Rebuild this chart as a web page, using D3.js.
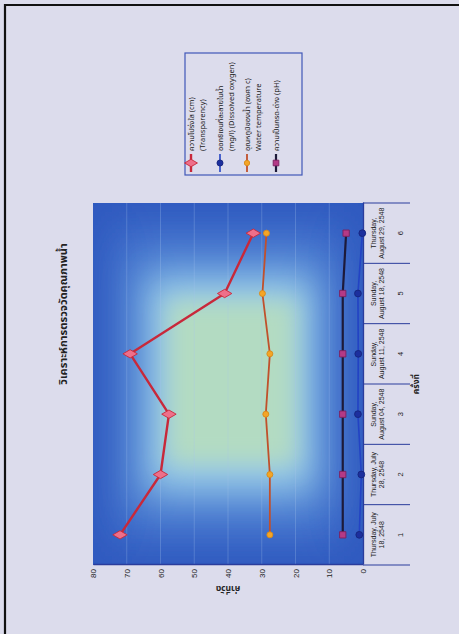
<!DOCTYPE html>
<html>
<head>
<meta charset="utf-8">
<script src="https://cdn.jsdelivr.net/npm/d3@7"></script>
<style>
  html, body { margin: 0; padding: 0; background: #dcdcec; }
  svg { display: block; }
  text { font-family: "Liberation Sans", Arial, sans-serif; }
  .th { font-family: "Noto Sans Thai", "Noto Sans Thai UI", "Loma", "Garuda", "Tlwg Typo", "Noto Sans", sans-serif; }
</style>
</head>
<body>
<svg id="chart" width="459" height="634"></svg>
<script>
// Sampling sessions (category axis)
const sessions = ["1", "2", "3", "4", "5", "6"];
const sessionDates = [
  ["Thursday, July", "18, 2548"],
  ["Thursday, July", "28, 2548"],
  ["Sunday,", "August 04, 2548"],
  ["Sunday,", "August 11, 2548"],
  ["Sunday,", "August 18, 2548"],
  ["Thursday,", "August 29, 2548"]
];

// Measured values per session
const transparency    = [72, 60, 57.5, 69, 41, 32.5];
const dissolvedOxygen = [1.1, 0.5, 1.5, 1.4, 1.5, 0.2];
const waterTemp       = [27.6, 27.6, 28.8, 27.6, 29.8, 28.6];
const phValue         = [6, 6, 6, 6, 6, 5];

const valueTicks = [0, 10, 20, 30, 40, 50, 60, 70, 80];

const titleText = "วิเคราะห์การตรวจวัดคุณภาพน้ำ";
const valueAxisTitle = "ค่าที่วัด";
const sessionAxisTitle = "ครั้งที่";
const legendLabels = [
  ["ความโปร่งใส (cm)", "(Transparency)"],
  ["ออกซิเจนที่ละลายในน้ำ", "(mg/l) (Dissolved oxygen)"],
  ["อุณหภูมิของน้ำ (องศา c)", "Water temperature"],
  ["ความเป็นกรด-ด่าง (pH)"]
];

const svg = d3.select("#chart");
const W = 459, H = 634;

// page
svg.append("rect").attr("width", W).attr("height", H).attr("fill", "#dcdcec");
svg.append("path").attr("d", `M5,${H} L5,5 L${W},5`).attr("fill", "none")
  .attr("stroke", "#111").attr("stroke-width", 2.2);

// The chart is laid out in its own frame, then turned a quarter turn counter-clockwise.
const g = svg.append("g").attr("transform", `translate(0,${H}) rotate(-90)`);

const plot = { left: 69, right: 431, top: 93, bottom: 363 };
const x = d3.scaleBand().domain(sessions).range([plot.left, plot.right]);
const y = d3.scaleLinear().domain([0, 80]).range([plot.bottom, plot.top]);
const cx = s => x(s) + x.bandwidth() / 2;

// ---- plot background: blue rim fading to a pale green centre ----
const defs = svg.append("defs");
defs.append("clipPath").attr("id", "plotClip").append("rect")
  .attr("x", plot.left).attr("y", plot.top)
  .attr("width", plot.right - plot.left).attr("height", plot.bottom - plot.top);
function blurFilter(id, sd) {
  const f = defs.append("filter").attr("id", id).attr("filterUnits", "userSpaceOnUse")
    .attr("x", 0).attr("y", 0).attr("width", 634).attr("height", 459);
  f.append("feGaussianBlur").attr("stdDeviation", sd);
}
blurFilter("b1", 22); blurFilter("b2", 16); blurFilter("b3", 11);

const bg = g.append("g").attr("clip-path", "url(#plotClip)");
const pw = plot.right - plot.left, ph = plot.bottom - plot.top;
bg.append("rect").attr("x", plot.left).attr("y", plot.top).attr("width", pw).attr("height", ph)
  .attr("fill", "#2f59bf");
const layers = [
  { l: 0.06, r: 0.06, t: 0.07, b: 0.07, fill: "#3f6fcc", f: "b1" },
  { l: 0.16, r: 0.16, t: 0.16, b: 0.15, fill: "#6ea3de", f: "b1" },
  { l: 0.22, r: 0.22, t: 0.22, b: 0.2, fill: "#98c9e6", f: "b2" },
  { l: 0.28, r: 0.27, t: 0.28, b: 0.25, fill: "#b3dbc2", f: "b3" }
];
layers.forEach(d => {
  bg.append("rect")
    .attr("x", plot.left + d.l * pw).attr("y", plot.top + d.t * ph)
    .attr("width", pw * (1 - d.l - d.r)).attr("height", ph * (1 - d.t - d.b))
    .attr("fill", d.fill).attr("filter", `url(#${d.f})`);
});

// gridlines
g.append("g").selectAll("line").data(valueTicks.filter(v => v > 0 && v < 80)).join("line")
  .attr("x1", plot.left).attr("x2", plot.right)
  .attr("y1", d => y(d)).attr("y2", d => y(d))
  .attr("stroke", "#a9c6ee").attr("stroke-opacity", 0.35).attr("stroke-width", 0.8);

// ---- value axis ----
const yAxis = g.append("g").attr("transform", `translate(${plot.left},0)`)
  .call(d3.axisLeft(y).tickValues(valueTicks).tickSize(0).tickPadding(4));
yAxis.select(".domain").attr("stroke", "#2a3c9c").attr("stroke-width", 1.3);
yAxis.selectAll("text").attr("font-size", 8).attr("fill", "#222")
  .attr("font-family", "Liberation Sans, Arial, sans-serif");

g.append("text").attr("class", "th")
  .attr("transform", `translate(46,${(plot.top + plot.bottom) / 2}) rotate(-90)`)
  .attr("text-anchor", "middle").attr("dominant-baseline", "middle")
  .attr("font-size", 8.5).attr("font-weight", "bold").attr("fill", "#222")
  .text(valueAxisTitle);

// ---- session axis ----
const xAxis = g.append("g").attr("transform", `translate(0,${plot.bottom})`)
  .call(d3.axisBottom(x).tickSize(0).tickFormat(""));
xAxis.select(".domain").attr("stroke", "#2a3c9c").attr("stroke-width", 1.3);

const bounds = sessions.map(s => x(s)).concat([plot.right]);
g.append("g").selectAll("line").data(bounds).join("line")
  .attr("x1", d => d).attr("x2", d => d)
  .attr("y1", plot.bottom).attr("y2", plot.bottom + 47)
  .attr("stroke", "#2a3c9c").attr("stroke-width", 1);

const lab = g.append("g").selectAll("g").data(sessions).join("g")
  .attr("transform", s => `translate(${cx(s)},0)`);
lab.each(function (s, i) {
  const sel = d3.select(this);
  sessionDates[i].forEach((line, k) => {
    sel.append("text").attr("x", 0).attr("y", plot.bottom + 12.5 + k * 8.5)
      .attr("text-anchor", "middle").attr("font-size", 7).attr("fill", "#222").text(line);
  });
  sel.append("text").attr("x", 0).attr("y", plot.bottom + 40)
    .attr("text-anchor", "middle").attr("font-size", 7.5).attr("fill", "#222").text(s);
});

g.append("text").attr("class", "th")
  .attr("x", (plot.left + plot.right) / 2).attr("y", plot.bottom + 56)
  .attr("text-anchor", "middle").attr("font-size", 8.5).attr("font-weight", "bold")
  .attr("fill", "#222").text(sessionAxisTitle);

// ---- title ----
g.append("text").attr("class", "th")
  .attr("x", 320).attr("y", 67)
  .attr("text-anchor", "middle").attr("font-size", 11).attr("font-weight", "bold")
  .attr("fill", "#222").text(titleText);

// ---- series ----
const series = [
  { name: "transparency", values: transparency, line: "#c8283a", lw: 2.4,
    symbol: d3.symbolDiamond, size: 60, fill: "#ee6f8a", stroke: "#c8283a" },
  { name: "do", values: dissolvedOxygen, line: "#2343c4", lw: 1.6,
    symbol: d3.symbolCircle, size: 36, fill: "#1c2f9e", stroke: "#16257e" },
  { name: "temp", values: waterTemp, line: "#c0502c", lw: 1.8,
    symbol: d3.symbolCircle, size: 28, fill: "#f4a526", stroke: "#d88a18" },
  { name: "ph", values: phValue, line: "#1d1a3a", lw: 2.2,
    symbol: d3.symbolSquare, size: 40, fill: "#b43a86", stroke: "#7a2060" }
];

const lineGen = d3.line().x((d, i) => cx(sessions[i])).y(d => y(d));
series.forEach(s => {
  g.append("path").datum(s.values).attr("d", lineGen)
    .attr("fill", "none").attr("stroke", s.line).attr("stroke-width", s.lw)
    .attr("stroke-linejoin", "round");
  g.append("g").selectAll("path").data(s.values).join("path")
    .attr("transform", (d, i) => `translate(${cx(sessions[i])},${y(d)})`)
    .attr("d", d3.symbol().type(s.symbol).size(s.size))
    .attr("fill", s.fill).attr("stroke", s.stroke).attr("stroke-width", 0.9);
});

// ---- legend ----
const legend = g.append("g");
legend.append("rect").attr("x", 459).attr("y", 185).attr("width", 122).attr("height", 117)
  .attr("fill", "none").attr("stroke", "#4057b8").attr("stroke-width", 1.2);
const legendRows = [191, 220, 247, 276];
series.forEach((s, i) => {
  const yy = legendRows[i];
  legend.append("line").attr("x1", 462).attr("x2", 480).attr("y1", yy).attr("y2", yy)
    .attr("stroke", s.line).attr("stroke-width", s.lw);
  legend.append("path").attr("transform", `translate(471,${yy})`)
    .attr("d", d3.symbol().type(s.symbol).size(s.size * 0.8))
    .attr("fill", s.fill).attr("stroke", s.stroke).attr("stroke-width", 0.9);
  legendLabels[i].forEach((line, k) => {
    legend.append("text").attr("class", "th")
      .attr("x", 483).attr("y", yy + 2.8 + k * 11.5)
      .attr("font-size", 7.5).attr("fill", "#222").text(line);
  });
});
</script>
</body>
</html>
